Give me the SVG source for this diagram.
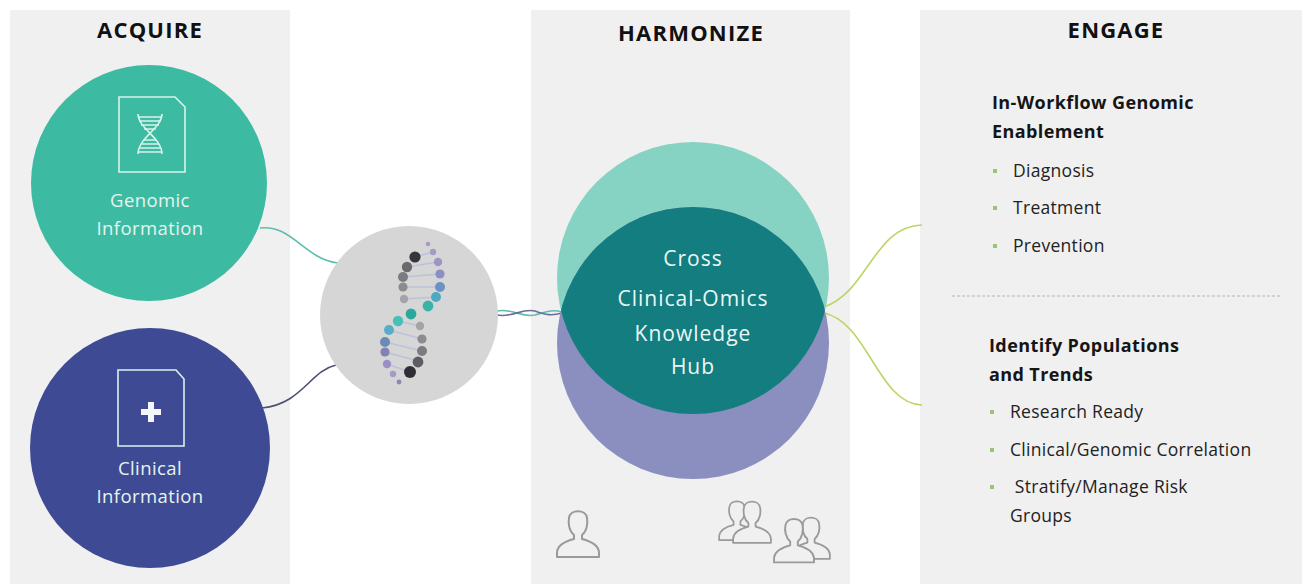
<svg xmlns="http://www.w3.org/2000/svg" width="1302" height="586" viewBox="0 0 1302 586">
  <defs>
    <style>
      .panel { fill: #f0f0f0; }
      .title { font-family: "Open Sans", "Liberation Sans", sans-serif; font-weight: 700; font-size: 22px; letter-spacing: 1.2px; fill: #111; text-anchor: middle; }
      .nodelabel { font-family: "Open Sans", "Liberation Sans", sans-serif; font-size: 18.5px; letter-spacing: 0.4px; fill: #e6f4f0; text-anchor: middle; }
      .hublabel { font-family: "Open Sans", "Liberation Sans", sans-serif; font-size: 21px; letter-spacing: 1px; fill: #eaf8f5; text-anchor: middle; }
      .head { font-family: "Open Sans", "Liberation Sans", sans-serif; font-weight: 700; font-size: 18px; letter-spacing: 0.4px; fill: #151515; }
      .item { font-family: "Open Sans", "Liberation Sans", sans-serif; font-size: 17.5px; letter-spacing: 0.3px; fill: #222; }
      .bullet { fill: #9cc66c; }
      .icon { fill: none; stroke: #d9f3ec; stroke-width: 1.6; }
      .person { fill: #f0f0f0; stroke: #9a9a9a; stroke-width: 2; stroke-linejoin: round; }
      .link { fill: none; stroke-width: 1.6; }
    </style>
    <!-- outline silhouette: head centred on the origin, shoulders below -->
    <path id="person" d="M -4 10 C -9 6 -10 -2 -9 -7 C -8 -16 8 -16 9 -7 C 10 -2 9 6 4 10 L 4 14 C 12 16 20 19 21 27 L 21 32 L -21 32 L -21 27 C -20 19 -12 16 -4 14 Z"/>
  </defs>

  <rect width="1302" height="586" fill="#ffffff"/>

  <!-- column panels -->
  <rect class="panel" x="10" y="10" width="280" height="574"/>
  <rect class="panel" x="531" y="10" width="319" height="574"/>
  <rect class="panel" x="920" y="10" width="382" height="574"/>

  <text class="title" x="150" y="38">ACQUIRE</text>
  <text class="title" x="691" y="41">HARMONIZE</text>
  <text class="title" x="1116" y="38">ENGAGE</text>

  <!-- connectors -->
  <g id="connectors">
    <path class="link" stroke="#5cbfae" d="M 260 228 C 292 224 304 259 338 263"/>
    <path class="link" stroke="#4d5170" d="M 262 408 C 302 404 310 371 336 365"/>
    <path class="link" stroke="#5cbfae" d="M 497 311 C 512 308 522 318 535 315 C 546 312 552 309 562 312"/>
    <path class="link" stroke="#6a6e9c" d="M 497 315 C 512 318 522 308 535 311 C 546 315 552 316 562 313"/>
    <path class="link" stroke="#b9d766" d="M 824 307 C 868 292 874 226 922 225"/>
    <path class="link" stroke="#b9d766" d="M 824 313 C 868 322 878 404 922 405"/>
  </g>

  <!-- genomic information -->
  <g id="genomic">
    <circle cx="149" cy="183" r="118" fill="#3cbba2"/>
    <path class="icon" d="M 119 97 L 175 97 L 185 107 L 185 172 L 119 172 Z"/>
    <path class="icon" d="M 138 114 C 138 128 162 138 162 154 M 162 114 C 162 128 138 138 138 154"/>
    <path class="icon" stroke-width="1.2" d="M 138 117 H 162 M 139 121 H 161 M 141 125 H 159 M 144 129 H 156 M 144 140 H 156 M 141 144 H 159 M 139 148 H 161 M 138 152 H 162"/>
    <text class="nodelabel" x="150" y="207">Genomic</text>
    <text class="nodelabel" x="150" y="235">Information</text>
  </g>

  <!-- clinical information -->
  <g id="clinical">
    <circle cx="150" cy="448" r="120" fill="#3e4b94"/>
    <path class="icon" d="M 118 370 L 176 370 L 184 379 L 184 446 L 118 446 Z"/>
    <path d="M 148 402 H 154 V 409 H 161 V 415 H 154 V 422 H 148 V 415 H 141 V 409 H 148 Z" fill="#f4f6fb"/>
    <text class="nodelabel" x="150" y="475">Clinical</text>
    <text class="nodelabel" x="150" y="503">Information</text>
  </g>

  <!-- DNA merge node -->
  <g id="dna">
    <circle cx="409" cy="315" r="89" fill="#d6d6d6"/>
    <g stroke="#b8c2dc" stroke-width="1.6" opacity="0.9">
      <line x1="415" y1="257" x2="433" y2="252"/>
      <line x1="407" y1="267" x2="438" y2="262"/>
      <line x1="403" y1="277" x2="440" y2="274"/>
      <line x1="403" y1="287" x2="440" y2="287"/>
      <line x1="404" y1="299" x2="436" y2="297"/>
      <line x1="398" y1="321" x2="420" y2="326"/>
      <line x1="389" y1="330" x2="422" y2="339"/>
      <line x1="385" y1="342" x2="422" y2="351"/>
      <line x1="385" y1="352" x2="418" y2="361"/>
      <line x1="387" y1="364" x2="410" y2="372"/>
    </g>
    <circle cx="428" cy="244" r="2.3" fill="#a49cc8"/>
    <circle cx="433" cy="252" r="3.2" fill="#a49cc8"/>
    <circle cx="438" cy="262" r="4.2" fill="#9c95c6"/>
    <circle cx="440" cy="274" r="4.6" fill="#8a8fc4"/>
    <circle cx="440" cy="287" r="5" fill="#6a92c4"/>
    <circle cx="436" cy="297" r="5" fill="#4ca9c2"/>
    <circle cx="428" cy="306" r="5.4" fill="#38b3a6"/>
    <circle cx="411" cy="314" r="5.4" fill="#2aa89e"/>
    <circle cx="398" cy="321" r="5.2" fill="#48c0b8"/>
    <circle cx="389" cy="330" r="5" fill="#55aec6"/>
    <circle cx="385" cy="342" r="5" fill="#6a8cb4"/>
    <circle cx="385" cy="352" r="4.6" fill="#8282b4"/>
    <circle cx="387" cy="364" r="4.2" fill="#9a90c6"/>
    <circle cx="393" cy="374" r="3.2" fill="#a49cc8"/>
    <circle cx="399" cy="382" r="2.4" fill="#8e86b0"/>
    <circle cx="415" cy="257" r="5.6" fill="#35353c"/>
    <circle cx="407" cy="267" r="5.2" fill="#6a6a6e"/>
    <circle cx="403" cy="277" r="5" fill="#7c7c80"/>
    <circle cx="403" cy="287" r="4.6" fill="#8c8c90"/>
    <circle cx="404" cy="299" r="4.2" fill="#a4a4a8"/>
    <circle cx="420" cy="326" r="4.2" fill="#a4a4a8"/>
    <circle cx="422" cy="339" r="4.6" fill="#8c8c90"/>
    <circle cx="422" cy="351" r="5" fill="#7c7c80"/>
    <circle cx="418" cy="362" r="5.4" fill="#5c5c62"/>
    <circle cx="410" cy="372" r="6" fill="#2e2e34"/>
  </g>

  <!-- knowledge hub -->
  <g id="hub">
    <circle cx="693" cy="278" r="136" fill="#86d3c4"/>
    <circle cx="693" cy="343" r="136" fill="#8a8fc0"/>
    <clipPath id="lens"><circle cx="693" cy="278" r="136"/></clipPath>
    <circle cx="693" cy="343" r="136" fill="#137d80" clip-path="url(#lens)"/>
    <text class="hublabel" x="693" y="266">Cross</text>
    <text class="hublabel" x="693" y="306">Clinical-Omics</text>
    <text class="hublabel" x="693" y="341">Knowledge</text>
    <text class="hublabel" x="693" y="374">Hub</text>
  </g>

  <!-- population icons -->
  <g id="people">
    <use href="#person" class="person" transform="translate(578,525)"/>
    <use href="#person" class="person" transform="translate(737,513) scale(0.85)"/>
    <use href="#person" class="person" transform="translate(752,514) scale(0.9)"/>
    <use href="#person" class="person" transform="translate(811,530) scale(0.9)"/>
    <use href="#person" class="person" transform="translate(794,532) scale(0.95)"/>
  </g>

  <!-- engagement outcomes -->
  <g id="workflow">
    <text class="head" x="992" y="109">In-Workflow Genomic</text>
    <text class="head" x="992" y="138">Enablement</text>
    <rect class="bullet" x="993" y="169" width="4" height="4"/>
    <text class="item" x="1013" y="177">Diagnosis</text>
    <rect class="bullet" x="993" y="206" width="4" height="4"/>
    <text class="item" x="1013" y="214">Treatment</text>
    <rect class="bullet" x="993" y="244" width="4" height="4"/>
    <text class="item" x="1013" y="252">Prevention</text>
  </g>

  <line x1="952" y1="296" x2="1282" y2="296" stroke="#b4b4b4" stroke-width="1" stroke-dasharray="3 2"/>

  <g id="populations">
    <text class="head" x="989" y="352">Identify Populations</text>
    <text class="head" x="989" y="381">and Trends</text>
    <rect class="bullet" x="990" y="410" width="4" height="4"/>
    <text class="item" x="1010" y="418">Research Ready</text>
    <rect class="bullet" x="990" y="448" width="4" height="4"/>
    <text class="item" x="1010" y="456">Clinical/Genomic Correlation</text>
    <rect class="bullet" x="990" y="485" width="4" height="4"/>
    <text class="item" x="1010" y="493" xml:space="preserve"> Stratify/Manage Risk</text>
    <text class="item" x="1010" y="522">Groups</text>
  </g>
</svg>
